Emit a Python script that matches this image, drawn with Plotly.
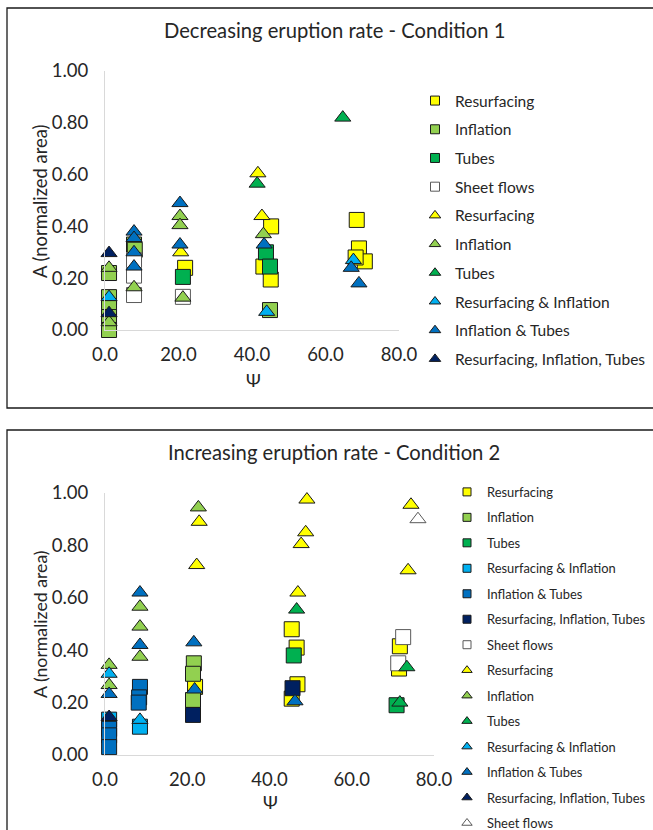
import plotly.graph_objects as go

FONT = "Lato"
TXT = "#262626"

# ---------------- Condition 1 (Decreasing eruption rate) ----------------
c1_sq_resurf_x = [21.8, 43.1, 45.2, 45.1, 68.5, 69.1, 70.7, 68.2]
c1_sq_resurf_y = [0.24, 0.245, 0.40, 0.195, 0.425, 0.315, 0.265, 0.28]
c1_sq_infl_x = [1.1, 1.1, 1.1, 1.1, 1.1, 7.9, 8.1, 44.9]
c1_sq_infl_y = [0.22, 0.127, 0.085, 0.05, 0.0, 0.33, 0.31, 0.077]
c1_sq_tubes_x = [21.2, 43.8, 44.9]
c1_sq_tubes_y = [0.205, 0.30, 0.245]
c1_sq_sheet_x = [7.9, 7.9, 7.9, 21.2]
c1_sq_sheet_y = [0.27, 0.21, 0.135, 0.128]

c1_tr_resurf_x = [20.6, 41.6, 42.7]
c1_tr_resurf_y = [0.30, 0.605, 0.44]
c1_tr_infl_x = [1.1, 1.1, 7.9, 20.4, 20.4, 21.2, 43.1]
c1_tr_infl_y = [0.24, 0.03, 0.165, 0.44, 0.405, 0.125, 0.37]
c1_tr_tubes_x = [41.4, 64.7]
c1_tr_tubes_y = [0.565, 0.82]
c1_tr_ri_x = [1.1, 44.0, 67.6]
c1_tr_ri_y = [0.127, 0.07, 0.27]
c1_tr_it_x = [7.9, 7.9, 7.9, 7.9, 20.4, 20.4, 43.3, 67.0, 69.1]
c1_tr_it_y = [0.38, 0.355, 0.30, 0.245, 0.49, 0.33, 0.33, 0.24, 0.18]
c1_tr_rit_x = [1.1, 1.1]
c1_tr_rit_y = [0.297, 0.065]

# ---------------- Condition 2 (Increasing eruption rate) ----------------
c2_sq_resurf_x = [21.9, 45.4, 46.6, 46.8, 45.4, 71.7, 71.5]
c2_sq_resurf_y = [0.26, 0.48, 0.41, 0.27, 0.215, 0.415, 0.33]
c2_sq_infl_x = [21.6, 21.4, 21.4]
c2_sq_infl_y = [0.35, 0.31, 0.21]
c2_sq_tubes_x = [45.9, 70.9]
c2_sq_tubes_y = [0.38, 0.19]
c2_sq_ri_x = [1.0, 8.5]
c2_sq_ri_y = [0.135, 0.108]
c2_sq_it_x = [1.0, 1.0, 1.0, 8.5, 8.3, 8.2]
c2_sq_it_y = [0.10, 0.075, 0.03, 0.26, 0.22, 0.20]
c2_sq_rit_x = [21.4, 45.6]
c2_sq_rit_y = [0.153, 0.255]
c2_sq_sheet_x = [72.5, 71.3]
c2_sq_sheet_y = [0.45, 0.35]

c2_tr_resurf_x = [22.9, 22.3, 49.1, 48.8, 47.7, 46.9, 74.4, 73.7]
c2_tr_resurf_y = [0.89, 0.725, 0.975, 0.85, 0.805, 0.62, 0.955, 0.705]
c2_tr_infl_x = [1.0, 1.0, 8.5, 8.5, 8.5, 22.7]
c2_tr_infl_y = [0.344, 0.267, 0.566, 0.49, 0.375, 0.945]
c2_tr_tubes_x = [46.6, 73.4, 71.7]
c2_tr_tubes_y = [0.555, 0.335, 0.20]
c2_tr_ri_x = [1.0, 8.5]
c2_tr_ri_y = [0.31, 0.134]
c2_tr_it_x = [1.0, 8.5, 8.5, 21.6, 21.8, 46.2]
c2_tr_it_y = [0.233, 0.62, 0.42, 0.43, 0.25, 0.205]
c2_tr_rit_x = [1.0]
c2_tr_rit_y = [0.145]
c2_tr_sheet_x = [76.1]
c2_tr_sheet_y = [0.90]

x_ticks = [0, 20, 40, 60, 80]
y_ticks = [0.0, 0.2, 0.4, 0.6, 0.8, 1.0]

COL = {
    "Resurfacing": "#FFFF00",
    "Inflation": "#92D050",
    "Tubes": "#00B050",
    "Sheet flows": "#FFFFFF",
    "Resurfacing & Inflation": "#00B0F0",
    "Inflation & Tubes": "#0070C0",
    "Resurfacing, Inflation, Tubes": "#002060",
}

c1_series = [
    ("square", "Resurfacing", c1_sq_resurf_x, c1_sq_resurf_y),
    ("square", "Inflation", c1_sq_infl_x, c1_sq_infl_y),
    ("square", "Tubes", c1_sq_tubes_x, c1_sq_tubes_y),
    ("square", "Sheet flows", c1_sq_sheet_x, c1_sq_sheet_y),
    ("triangle-up", "Resurfacing", c1_tr_resurf_x, c1_tr_resurf_y),
    ("triangle-up", "Inflation", c1_tr_infl_x, c1_tr_infl_y),
    ("triangle-up", "Tubes", c1_tr_tubes_x, c1_tr_tubes_y),
    ("triangle-up", "Resurfacing & Inflation", c1_tr_ri_x, c1_tr_ri_y),
    ("triangle-up", "Inflation & Tubes", c1_tr_it_x, c1_tr_it_y),
    ("triangle-up", "Resurfacing, Inflation, Tubes", c1_tr_rit_x, c1_tr_rit_y),
]
c2_series = [
    ("square", "Resurfacing", c2_sq_resurf_x, c2_sq_resurf_y),
    ("square", "Inflation", c2_sq_infl_x, c2_sq_infl_y),
    ("square", "Tubes", c2_sq_tubes_x, c2_sq_tubes_y),
    ("square", "Resurfacing & Inflation", c2_sq_ri_x, c2_sq_ri_y),
    ("square", "Inflation & Tubes", c2_sq_it_x, c2_sq_it_y),
    ("square", "Resurfacing, Inflation, Tubes", c2_sq_rit_x, c2_sq_rit_y),
    ("square", "Sheet flows", c2_sq_sheet_x, c2_sq_sheet_y),
    ("triangle-up", "Resurfacing", c2_tr_resurf_x, c2_tr_resurf_y),
    ("triangle-up", "Inflation", c2_tr_infl_x, c2_tr_infl_y),
    ("triangle-up", "Tubes", c2_tr_tubes_x, c2_tr_tubes_y),
    ("triangle-up", "Resurfacing & Inflation", c2_tr_ri_x, c2_tr_ri_y),
    ("triangle-up", "Inflation & Tubes", c2_tr_it_x, c2_tr_it_y),
    ("triangle-up", "Resurfacing, Inflation, Tubes", c2_tr_rit_x, c2_tr_rit_y),
    ("triangle-up", "Sheet flows", c2_tr_sheet_x, c2_tr_sheet_y),
]

W, H = 653, 830


def fx(px):
    return px / W


def fy(py):
    return 1 - py / H


fig = go.Figure()


def add_panel(series, xa, ya, legend_name, sq_size, tr_size, leg_sq, leg_tr):
    for sym, name, xs, ys in series:
        is_sq = sym == "square"
        line_col = "#595959" if name == "Sheet flows" else "#1a1a1a"
        fig.add_trace(go.Scatter(
            x=xs, y=ys, mode="markers", xaxis=xa, yaxis=ya,
            showlegend=False, cliponaxis=False, hoverinfo="skip",
            marker=dict(symbol=sym, size=sq_size if is_sq else tr_size,
                        color=COL[name], line=dict(color=line_col, width=1)),
        ))
    for i, (sym, name, xs, ys) in enumerate(series):
        is_sq = sym == "square"
        line_col = "#595959" if name == "Sheet flows" else "#1a1a1a"
        fig.add_trace(go.Scatter(
            x=[None], y=[None], mode="markers", xaxis=xa, yaxis=ya,
            name=name, legend=legend_name, legendgroup=f"{legend_name}_{i}",
            marker=dict(symbol=sym, size=leg_sq if is_sq else leg_tr,
                        color=COL[name], line=dict(color=line_col, width=1)),
        ))


add_panel(c1_series, "x", "y", "legend", 15, 14, 9, 10)
add_panel(c2_series, "x2", "y2", "legend2", 15, 14, 8, 9)

axis_common = dict(showgrid=False, zeroline=False, showline=True,
                   linecolor="#d9d9d9", linewidth=1, ticks="outside",
                   tickcolor="rgba(0,0,0,0)",
                   tickfont=dict(family=FONT, size=18.5, color=TXT))

ann_font = lambda s: dict(family=FONT, size=s, color=TXT)


def ann(text, px, py, size, angle=0):
    return dict(text=text, x=fx(px), y=fy(py), xref="paper", yref="paper",
                xanchor="center", yanchor="middle", textangle=angle,
                showarrow=False, font=ann_font(size))


fig.update_layout(
    width=W, height=H,
    margin=dict(l=0, r=0, t=0, b=0, pad=0, autoexpand=False),
    paper_bgcolor="white", plot_bgcolor="white",
    showlegend=True,
    xaxis=dict(domain=[fx(105), fx(399)], range=[0, 80], tickvals=x_ticks,
               tickformat=".1f", anchor="y", ticklen=8, **axis_common),
    yaxis=dict(domain=[fy(330), fy(71)], range=[0, 1], tickvals=y_ticks,
               tickformat=".2f", anchor="x", ticklen=12, **axis_common),
    xaxis2=dict(domain=[fx(105), fx(434)], range=[0, 80], tickvals=x_ticks,
                tickformat=".1f", anchor="y2", ticklen=8, **axis_common),
    yaxis2=dict(domain=[fy(755), fy(493)], range=[0, 1], tickvals=y_ticks,
                tickformat=".2f", anchor="x2", ticklen=12, **axis_common),
    legend=dict(x=fx(415), y=fy(84), xanchor="left", yanchor="top",
                traceorder="grouped", tracegroupgap=5.55, itemsizing="trace",
                font=dict(family=FONT, size=15.5, color=TXT),
                bgcolor="rgba(0,0,0,0)"),
    legend2=dict(x=fx(447), y=fy(477), xanchor="left", yanchor="top",
                 traceorder="grouped", tracegroupgap=5.7, itemsizing="trace",
                 font=dict(family=FONT, size=12.9, color=TXT),
                 bgcolor="rgba(0,0,0,0)"),
    shapes=[
        dict(type="rect", xref="paper", yref="paper", x0=fx(7), x1=1.05,
             y0=fy(408), y1=fy(8), line=dict(color="#1a1a1a", width=1.3)),
        dict(type="rect", xref="paper", yref="paper", x0=fx(7), x1=1.05,
             y0=-0.05, y1=fy(430), line=dict(color="#1a1a1a", width=1.3)),
    ],
    annotations=[
        ann("Decreasing eruption rate - Condition 1", 334, 30, 20.2),
        ann("Increasing eruption rate - Condition 2", 334, 452, 20.2),
        ann("A (normalized area)", 40, 201, 18.4, -90),
        ann("A (normalized area)", 40, 624, 17.7, -90),
        ann("Ψ", 253, 380, 18),
        ann("Ψ", 270, 802, 18),
    ],
)

fig.write_html("out.html")
